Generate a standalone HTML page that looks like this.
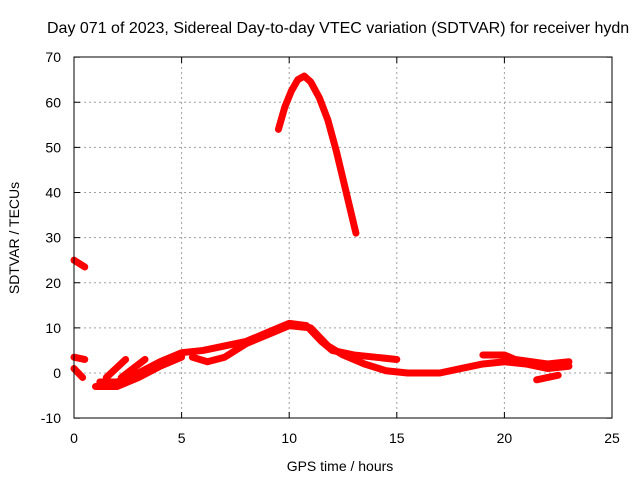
<!DOCTYPE html>
<html><head><meta charset="utf-8"><style>
body{margin:0;background:#fff;font-family:"Liberation Sans",sans-serif}
svg{display:block}
text{font-family:"Liberation Sans",sans-serif;font-size:14px;fill:#000}
</style></head><body>
<svg id="c" width="640" height="480">
<text x="47" y="33" style="font-size:16px">Day 071 of 2023, Sidereal Day-to-day VTEC variation (SDTVAR) for receiver hydn</text>
<text x="340" y="471" text-anchor="middle">GPS time / hours</text>
<text transform="translate(19,238) rotate(-90)" text-anchor="middle">SDTVAR / TECUs</text>
<g id="grid"></g><g id="marks"></g>
<rect x="74" y="57" width="538" height="361" fill="none" stroke="#000"/>
</svg>
<script>
const xTicks=[0,5,10,15,20,25];
const yTicks=[-10,0,10,20,30,40,50,60,70];
const trackMain=[[1.2,-2],[2,-2],[3,0],[4,2.5],[5,4.5],[6,5],[7,6],[8,7],[9,9],[10,11],[10.8,10.5],[11.5,7],[12,5],[13,4],[14,3.5],[15,3]];
const trackLow=[[5.5,3.5],[6.2,2.5],[7,3.5],[8,6.5],[9,8.5],[10,10.5],[11,10],[11.8,6],[12.5,4],[13.5,2],[14.5,0.5],[15.5,0],[17,0],[18,1],[19,2],[20,2.5],[21,2],[22,1],[23,1.5]];
const trackLate=[[19,4],[20,4],[20.5,3],[22,2],[23,2.5]];
const trackShort=[[21.5,-1.5],[22.5,-0.5]];
const trackSpike1=[[1.5,-1],[2.4,3]];
const trackSpike2=[[2.2,-1],[3.3,3]];
const trackLow2=[[1,-3],[2,-3],[3,-1],[4,1.5],[5,3.5]];
const trackLeft1=[[0,3.5],[0.5,3]];
const trackLeft2=[[0,1],[0.4,-1]];
const trackUpper=[[0,25],[0.5,23.5]];
const trackArc=[[9.5,54],[9.8,59],[10.1,62.5],[10.4,65],[10.7,65.8],[11,64.5],[11.4,61],[11.8,56],[12.2,49],[12.6,41],[13.1,31]];
const tracks=[trackMain,trackLow,trackLate,trackShort,trackSpike1,trackSpike2,trackLow2,trackLeft1,trackLeft2,trackUpper,trackArc];
const X=v=>74+v*538/25, Y=v=>373-v*361/80;
const NS='http://www.w3.org/2000/svg';
const g=document.getElementById('grid'), m=document.getElementById('marks');
function mk(t,a,p){const e=document.createElementNS(NS,t);for(const k in a)e.setAttribute(k,a[k]);p.appendChild(e);return e;}
xTicks.forEach(t=>{
 const x=X(t);
 if(t>0&&t<25){const l=mk('line',{x1:x,x2:x,y1:57,y2:418,stroke:'#a0a0a0','stroke-dasharray':'2,3'},g);
 
 }
 mk('line',{x1:x,x2:x,y1:418,y2:412,stroke:'#000'},g);
 mk('line',{x1:x,x2:x,y1:57,y2:63,stroke:'#000'},g);
 const tx=mk('text',{x:x,y:443,'text-anchor':'middle'},g);tx.textContent=t;
 
 
});
yTicks.forEach(t=>{
 const y=Y(t);
 if(t>-10&&t<70){const l=mk('line',{x1:74,x2:612,y1:y,y2:y,stroke:'#a0a0a0','stroke-dasharray':'2,3'},g);
 
 }
 mk('line',{x1:74,x2:80,y1:y,y2:y,stroke:'#000'},g);
 mk('line',{x1:612,x2:606,y1:y,y2:y,stroke:'#000'},g);
 const tx=mk('text',{x:61,y:y+5,'text-anchor':'end'},g);tx.textContent=t;
 
 
});
tracks.forEach(tr=>{
 const p=mk('polyline',{points:tr.map(d=>X(d[0])+','+Y(d[1])).join(' '),fill:'none',stroke:'#f00','stroke-width':7,'stroke-linejoin':'round','stroke-linecap':'round'},m);
 
 
});
</script>
</body></html>
